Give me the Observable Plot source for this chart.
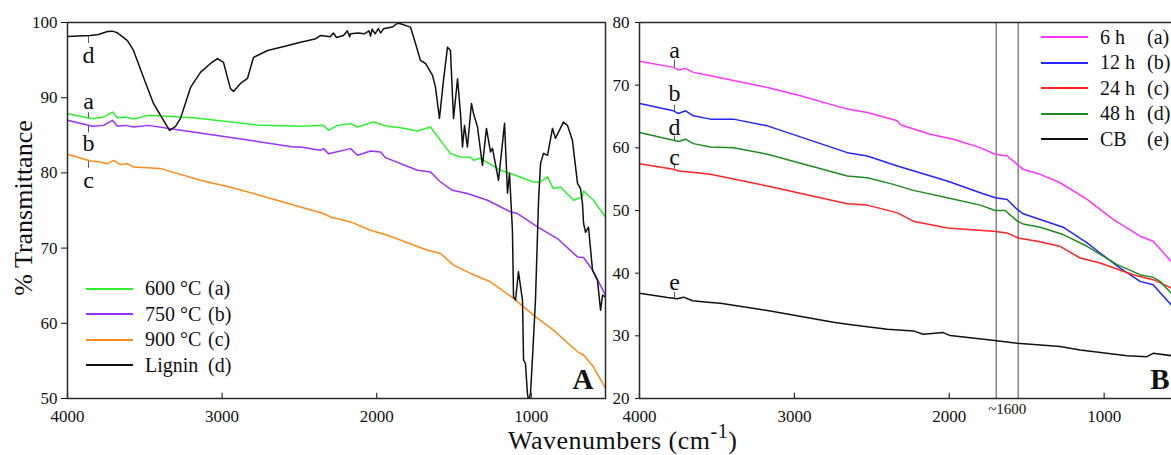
<!DOCTYPE html>
<html>
<head>
<meta charset="utf-8">
<script src="https://cdn.jsdelivr.net/npm/d3@7"></script>
<script src="https://cdn.jsdelivr.net/npm/@observablehq/plot@0.6"></script>
<style>
  html, body { margin: 0; padding: 0; background: #fff; }
  #root { position: relative; width: 1171px; height: 455px; overflow: hidden; background: #fff;
          font-family: "Liberation Serif", "Times New Roman", serif; color: #111; }
  .panel { position: absolute; top: 0; }
  .panel g[aria-label$="tick label"], .panel g[aria-label$="tick label"] text {
    font-size: 17px; font-family: "Liberation Serif", "Times New Roman", serif; }
  .legend { position: absolute; font-size: 20px; }
  .legend .row { display: flex; align-items: center; height: 25.5px; white-space: pre; }
  .legend .sw { display: inline-block; width: 47px; height: 0; border-top: 2px solid #000; }
  .title-x { position: absolute; left: 508px; top: 426px; font-size: 26px; line-height: 29px; letter-spacing: 0.5px; white-space: nowrap; }
  .title-x sup { font-size: 20px; line-height: 0; vertical-align: 0; position: relative; top: -11px; }
  .title-y { position: absolute; left: 23px; top: 208px; font-size: 26px; line-height: 29px; white-space: nowrap;
             transform: translate(-50%, -50%) rotate(-90deg); }
</style>
</head>
<body>
<div id="root"></div>
<script>
// ---------- tick values ----------
const xTicks = [4000, 3000, 2000, 1000];
const yTicksA = [50, 60, 70, 80, 90, 100];
const yTicksB = [20, 30, 40, 50, 60, 70, 80];

// ---------- Panel A series: [wavenumber, %T] ----------
const carbon600 = [[4000,87.87],[3838,87.21],[3767,87.42],[3709,88.09],[3677,87.34],[3625,87.42],[3573,87.16],[3476,87.65],[3185,87.34],[2752,86.32],[2493,86.19],[2344,86.32],[2312,85.66],[2254,86.32],[2169,86.55],[2124,86.1],[2021,86.76],[1930,86.19],[1846,86.01],[1736,85.56],[1652,86.1],[1587,84.33],[1523,82.56],[1458,82.11],[1393,82.07],[1374,81.67],[1329,81.94],[1199,80.35],[1134,79.91],[986,78.79],[941,78.79],[895,79.46],[857,77.92],[811,78.13],[727,76.36],[669,76.8],[662,77.6],[598,76.36],[520,74.14]];
const carbon750 = [[4000,86.99],[3838,86.19],[3767,86.32],[3709,86.99],[3677,86.19],[3625,86.32],[3573,86.1],[3476,86.32],[3334,85.88],[2965,84.77],[2538,83.44],[2493,83.44],[2364,83.0],[2344,83.23],[2312,82.56],[2169,83.23],[2124,82.34],[2040,82.91],[1975,82.78],[1943,82.03],[1736,80.35],[1652,80.12],[1587,78.79],[1510,77.69],[1413,77.25],[1283,76.36],[1134,74.81],[1089,74.6],[960,72.82],[831,71.27],[701,68.83],[662,68.75],[604,67.07],[520,63.75]];
const carbon900 = [[4000,82.47],[3851,81.58],[3787,81.45],[3741,81.23],[3702,81.67],[3657,81.1],[3612,81.23],[3573,80.78],[3398,80.57],[3140,79.02],[2926,78.0],[2668,76.49],[2493,75.47],[2344,74.6],[2299,74.14],[2169,73.48],[2040,72.38],[1930,71.71],[1671,69.72],[1587,69.28],[1503,67.73],[1393,66.63],[1264,65.52],[1115,63.31],[986,61.09],[857,59.1],[701,56.21],[662,55.78],[598,54.22],[520,51.35]];
const lignin = [[4000,98.14],[3930,98.2],[3851,98.27],[3800,98.4],[3741,98.8],[3710,98.85],[3677,98.63],[3612,97.6],[3573,96.28],[3508,92.7],[3444,89.24],[3379,86.98],[3340,85.66],[3301,86.2],[3269,87.25],[3204,91.37],[3140,93.36],[3075,94.55],[3030,95.2],[2991,94.7],[2946,91.2],[2926,90.84],[2881,91.9],[2836,92.56],[2797,95.35],[2706,96.28],[2600,96.8],[2493,97.38],[2400,97.8],[2364,98.27],[2300,98.1],[2280,98.6],[2260,98.0],[2215,98.27],[2190,98.9],[2175,98.1],[2169,98.5],[2120,98.6],[2080,98.5],[2050,98.9],[2040,98.2],[2030,99.1],[2010,98.5],[1990,99.2],[1975,98.6],[1956,99.16],[1900,99.4],[1865,99.9],[1846,99.83],[1781,99.38],[1749,97.2],[1717,94.95],[1684,94.55],[1639,92.96],[1620,91.4],[1594,87.25],[1568,92.3],[1542,96.72],[1523,96.28],[1503,87.25],[1477,92.52],[1458,87.92],[1445,83.44],[1432,86.3],[1413,83.44],[1387,89.24],[1374,87.92],[1348,86.1],[1316,81.01],[1290,85.92],[1264,82.78],[1251,83.27],[1212,79.02],[1173,86.59],[1154,77.29],[1141,79.95],[1122,72.38],[1115,63.52],[1102,63.08],[1083,66.84],[1057,63.08],[1050,55.11],[1038,54.7],[1025,50.7],[1018,49.6],[1005,50.7],[992,55.5],[973,63.08],[953,76.36],[940,81.27],[921,82.6],[895,82.34],[863,85.92],[844,84.6],[792,86.76],[766,86.32],[734,84.33],[701,78.6],[682,77.95],[669,75.96],[662,73.3],[649,72.1],[630,72.78],[604,67.07],[572,65.74],[552,61.75],[539,63.75],[520,63.48]];

// ---------- Panel B series ----------
const h6 = [[4000,73.8],[3781,72.84],[3748,72.43],[3703,72.68],[3652,72.04],[3542,71.51],[3174,69.64],[2961,68.31],[2658,66.18],[2529,65.64],[2335,64.31],[2316,63.67],[2123,62.18],[1974,61.38],[1800,60.03],[1703,58.98],[1626,58.7],[1561,57.37],[1523,56.57],[1413,55.77],[1284,54.43],[1110,51.77],[942,48.57],[768,45.9],[684,45.09],[568,41.9],[520,40.8]];
const h12 = [[4000,67.08],[3781,65.91],[3748,65.48],[3703,65.91],[3652,65.11],[3542,64.58],[3394,64.58],[3174,63.51],[2658,59.23],[2529,58.7],[2335,57.1],[2013,54.7],[1800,52.83],[1703,52.03],[1626,51.77],[1561,50.17],[1523,49.47],[1413,48.57],[1265,47.33],[1110,44.82],[1026,43.22],[897,40.82],[768,38.69],[684,38.16],[568,34.96],[520,34.0]];
const h24 = [[4000,57.47],[3781,56.57],[3748,56.3],[3690,56.19],[3542,55.77],[3174,53.9],[2658,51.06],[2529,50.86],[2335,49.62],[2232,48.3],[2013,47.22],[1716,46.69],[1626,46.42],[1555,45.62],[1432,45.09],[1284,44.29],[1155,42.42],[1026,41.62],[813,39.76],[684,38.96],[568,37.65],[520,37.0]];
const h48 = [[4000,62.44],[3781,61.22],[3748,61.0],[3703,61.38],[3652,60.67],[3542,60.14],[3394,60.03],[3174,58.98],[2658,55.5],[2529,55.23],[2361,54.17],[2232,53.21],[2013,52.03],[1800,50.86],[1703,50.01],[1639,50.01],[1561,48.3],[1523,47.86],[1413,47.33],[1265,46.16],[1110,44.29],[916,41.36],[768,39.76],[684,39.33],[639,38.69],[568,36.82],[520,36.0]];
const cb = [[4000,36.81],[3819,36.12],[3755,35.92],[3716,36.17],[3658,35.6],[3561,35.37],[3477,35.21],[3174,34.04],[2748,32.17],[2658,31.85],[2400,31.05],[2232,30.79],[2168,30.25],[2039,30.52],[1994,30.04],[1735,29.35],[1561,28.81],[1284,28.28],[1155,27.75],[852,26.84],[723,26.68],[684,27.21],[568,26.84],[520,26.9]];

// ---------- legends ----------
const legendA = [["600 °C", "(a)", "#2ef02e", carbon600], ["750 °C", "(b)", "#9b30ff", carbon750],
                 ["900 °C", "(c)", "#ff8a1c", carbon900], ["Lignin", "(d)", "#111111", lignin]];
const legendB = [["6 h", "(a)", "#ff33ff", h6], ["12 h", "(b)", "#2424ff", h12], ["24 h", "(c)", "#ff2424", h24],
                 ["48 h", "(d)", "#1e8c1e", h48], ["CB", "(e)", "#111111", cb]];

// ---------- curve letter labels (letter, label baseline, leader y1, leader y2) ----------
const lettersA = [["d", 94.6, 98.1, 97.2], ["a", 88.5, 88.0, 87.25], ["b", 82.9, 86.2, 85.3], ["c", 78.0, 81.5, 80.6]];
const lettersB = [["a", 74.3, 74.0, 72.8], ["b", 67.4, 66.8, 65.7], ["d", 62.1, 61.9, 61.1], ["c", 57.3, 57.3, 56.6], ["e", 37.3, 36.9, 36.0]];
const letterXA = 3864, letterXB = 3774;
const bandB = [1697, 1555];

const toRows = (arr) => arr.map(([w, t]) => ({w, t}));
const font = "'Liberation Serif', 'Times New Roman', serif";

function panel({yDomain, yTicks, series, letters, letterX, tag, width, marginLeft, marginRight, tickSizeY, tickPadY, extra}) {
  const y0 = yDomain[0];
  const span = yDomain[1] - yDomain[0];
  return Plot.plot({
    width, height: 455,
    marginLeft, marginRight, marginTop: 22, marginBottom: 57,
    x: {domain: [4000, 520], label: null},
    y: {domain: yDomain, label: null},
    style: {fontFamily: font, fontSize: "17px", background: "transparent", color: "#111", overflow: "visible"},
    marks: [
      ...(extra || []),
      ...series.map(s => Plot.line(toRows(s[3]), {x: "w", y: "t", stroke: s[2], strokeWidth: 1.5, clip: true})),
      Plot.ruleX(letters, {x: () => letterX, y1: d => d[2], y2: d => d[3], stroke: "#555", strokeWidth: 1}),
      Plot.text(letters, {x: () => letterX, y: d => d[1], text: d => d[0], fontSize: 24, lineAnchor: "bottom", fill: "#111"}),
      Plot.frame({stroke: "#2a2a2a", strokeWidth: 1.5}),
      Plot.axisY({ticks: yTicks, tickSize: tickSizeY, tickPadding: tickPadY, fontSize: 17, label: null}),
      Plot.axisX({ticks: xTicks, tickSize: 0, tickPadding: 11, fontSize: 17, label: null, tickFormat: d => String(d)}),
      Plot.ruleX(xTicks, {y1: y0, y2: y0 + span * 0.014, stroke: "#2a2a2a", strokeWidth: 1.2}),
      Plot.text([tag], {frameAnchor: "bottom-right", dx: tag === "A" ? -12 : -9, dy: -10, lineAnchor: "bottom",
                        fontSize: 29, fontWeight: "bold", fill: "#111"})
    ]
  });
}

const root = document.getElementById("root");

const chartA = panel({yDomain: [50, 100], yTicks: yTicksA, series: legendA, letters: lettersA, letterX: letterXA,
  tag: "A", width: 620, marginLeft: 67, marginRight: 15, tickSizeY: 6, tickPadY: 4});
chartA.classList.add("panel"); chartA.style.left = "0px";
root.appendChild(chartA);

const chartB = panel({yDomain: [20, 80], yTicks: yTicksB, series: legendB, letters: lettersB, letterX: letterXB,
  tag: "B", width: 590, marginLeft: 39, marginRight: 12, tickSizeY: 4, tickPadY: 6,
  extra: [
    Plot.ruleX(bandB, {y1: 20, y2: 80, stroke: "#666", strokeWidth: 1.2}),
    Plot.text(["~1600"], {x: () => d3.mean(bandB), frameAnchor: "bottom", dy: 11, lineAnchor: "middle", fontSize: 15, fill: "#111"})
  ]});
chartB.classList.add("panel"); chartB.style.left = "600px";
root.appendChild(chartB);

function legend(items, left, top, nameWidth) {
  const div = document.createElement("div");
  div.className = "legend";
  div.style.left = left + "px"; div.style.top = top + "px";
  for (const [name, code, color] of items) {
    const row = document.createElement("div"); row.className = "row";
    const sw = document.createElement("span"); sw.className = "sw"; sw.style.borderTopColor = color;
    const nm = document.createElement("span"); nm.textContent = name;
    nm.style.marginLeft = "12px"; nm.style.display = "inline-block"; nm.style.width = nameWidth + "px";
    const cd = document.createElement("span"); cd.textContent = code;
    row.append(sw, nm, cd); div.appendChild(row);
  }
  root.appendChild(div);
}
legend(legendA, 86, 276, 63);
legend(legendB, 1041, 24.5, 47);

const tx = document.createElement("div"); tx.className = "title-x";
tx.innerHTML = "Wavenumbers (cm<sup>-1</sup>)";
root.appendChild(tx);
const ty = document.createElement("div"); ty.className = "title-y";
ty.textContent = "% Transmittance";
root.appendChild(ty);
</script>
</body>
</html>
